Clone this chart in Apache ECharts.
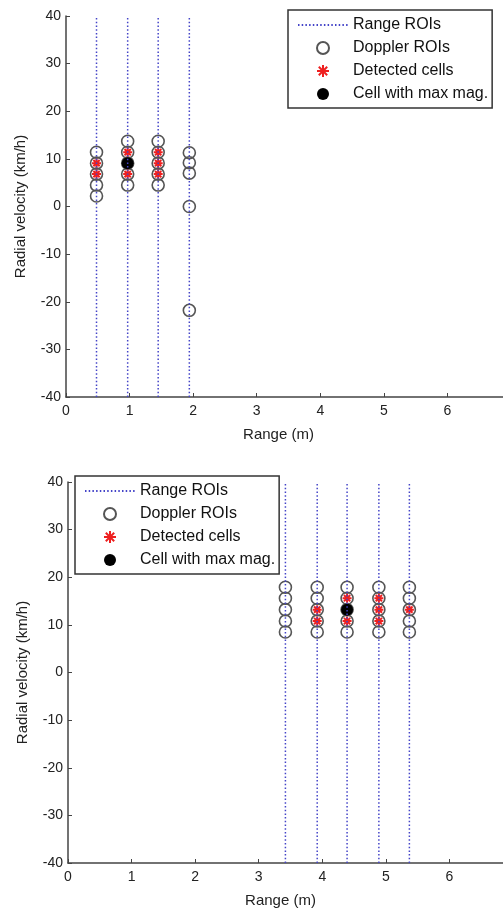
<!DOCTYPE html>
<html>
<head>
<meta charset="utf-8">
<script src="https://cdn.jsdelivr.net/npm/echarts@6.0.0/dist/echarts.min.js"></script>
<style>
  html, body { margin: 0; padding: 0; background: #fff; }
  #chart { width: 503px; height: 913px; }
</style>
</head>
<body>
<div id="chart"></div>
<script>
// range axis ticks and velocity ticks
const rangeTicks = [0, 1, 2, 3, 4, 5, 6, 7];
const velocityTicks = [-40, -30, -20, -10, 0, 10, 20, 30, 40];

// top panel: range ROIs (m) and, per ROI, the Doppler ROIs (km/h)
const topRange = [0.48, 0.97, 1.45, 1.94];
const topDoppler = [
    [2.2, 4.5, 6.8, 9.1, 11.4],
    [4.5, 6.8, 9.1, 11.4, 13.7],
    [4.5, 6.8, 9.1, 11.4, 13.7],
    [-21.8, 0, 7.0, 9.2, 11.3]
];
const topDetected = [
    [6.8, 9.1],
    [6.8, 11.4],
    [6.8, 9.1, 11.4],
    []
];
const topMax = [0.97, 9.1];

// bottom panel
const botRange = [3.42, 3.92, 4.39, 4.89, 5.37];
const botDoppler = [
    [8.5, 10.8, 13.2, 15.6, 17.9],
    [8.5, 10.8, 13.2, 15.6, 17.9],
    [8.5, 10.8, 13.2, 15.6, 17.9],
    [8.5, 10.8, 13.2, 15.6, 17.9],
    [8.5, 10.8, 13.2, 15.6, 17.9]
];
const botDetected = [
    [],
    [10.8, 13.2],
    [10.8, 15.6],
    [10.8, 13.2, 15.6],
    [13.2]
];
const botMax = [4.39, 13.2];

const names = ['Range ROIs', 'Doppler ROIs', 'Detected cells', 'Cell with max mag.'];
const font = 'Liberation Sans, Arial, sans-serif';
const asterisk = 'path://M5,0L5,10M0,5L10,5M1.5,1.5L8.5,8.5M8.5,1.5L1.5,8.5';

function toPoints(xs, cols) {
    const pts = [];
    xs.forEach((x, i) => cols[i].forEach(v => pts.push([x, v])));
    return pts;
}

function panelSeries(idx, xs, doppler, detected, maxPt) {
    const list = [];
    xs.forEach(x => {
        list.push({
            name: names[0],
            type: 'line',
            xAxisIndex: idx, yAxisIndex: idx,
            symbol: 'none',
            silent: true,
            lineStyle: { color: '#4444c8', width: 1.5, type: [1.5, 2.2] },
            data: [[x, velocityTicks[0]], [x, velocityTicks[velocityTicks.length - 1]]]
        });
    });
    list.push({
        name: names[1],
        type: 'scatter',
        xAxisIndex: idx, yAxisIndex: idx,
        symbol: 'circle',
        symbolSize: 12,
        itemStyle: { color: 'rgba(255,255,255,0)', borderColor: '#555', borderWidth: 1.6, opacity: 1 },
        data: toPoints(xs, doppler)
    });
    list.push({
        name: names[2],
        type: 'scatter',
        xAxisIndex: idx, yAxisIndex: idx,
        symbol: asterisk,
        symbolSize: 9,
        itemStyle: { color: 'rgba(255,255,255,0)', borderColor: '#ee2020', borderWidth: 2, opacity: 1 },
        data: toPoints(xs, detected)
    });
    list.push({
        name: names[3],
        type: 'scatter',
        xAxisIndex: idx, yAxisIndex: idx,
        symbol: 'circle',
        symbolSize: 12,
        itemStyle: { color: '#000', opacity: 1 },
        data: [maxPt]
    });
    return list;
}

function xAxis(idx) {
    return {
        type: 'value', gridIndex: idx,
        min: rangeTicks[0], max: rangeTicks[rangeTicks.length - 1], interval: 1,
        name: 'Range (m)', nameLocation: 'middle', nameGap: 30,
        nameTextStyle: { fontFamily: font, fontSize: 15, color: '#222', padding: [0, 20, 0, 0] },
        axisLine: { onZero: false, lineStyle: { color: '#444', width: 1.5 } },
        axisTick: { inside: true, length: 4, lineStyle: { color: '#444' } },
        axisLabel: {
            fontFamily: font, fontSize: 14, color: '#222', margin: 7,
            formatter: v => (v < 7 ? String(v) : '')
        },
        splitLine: { show: false }
    };
}

function yAxis(idx) {
    return {
        type: 'value', gridIndex: idx,
        min: velocityTicks[0], max: velocityTicks[velocityTicks.length - 1], interval: 10,
        name: 'Radial velocity (km/h)', nameLocation: 'middle', nameGap: 38,
        nameTextStyle: { fontFamily: font, fontSize: 15, color: '#222' },
        axisLine: { show: true, onZero: false, lineStyle: { color: '#444', width: 1.5 } },
        axisTick: { show: true, inside: true, length: 4, lineStyle: { color: '#444' } },
        axisLabel: { fontFamily: font, fontSize: 14, color: '#222', margin: 5 },
        splitLine: { show: false }
    };
}

function legend(left, top) {
    return {
        left: left, top: top,
        orient: 'vertical',
        data: [
            { name: names[0], itemStyle: { color: 'rgba(0,0,0,0)', borderWidth: 0, opacity: 0 } },
            names[1], names[2], names[3]
        ],
        itemWidth: 50, itemHeight: 12, itemGap: 7,
        padding: [7, 4, 6, 9],
        borderColor: '#333', borderWidth: 1.5,
        backgroundColor: '#fff',
        selectedMode: false,
        textStyle: { fontFamily: font, fontSize: 16, color: '#111' }
    };
}

const chart = echarts.init(document.getElementById('chart'));
chart.setOption({
    animation: false,
    backgroundColor: '#fff',
    grid: [
        { left: 66, top: 16, width: 445, height: 381, outerBoundsMode: 'none', containLabel: false },
        { left: 68, top: 482, width: 445, height: 381, outerBoundsMode: 'none', containLabel: false }
    ],
    legend: [legend(288, 10), legend(75, 476)],
    xAxis: [xAxis(0), xAxis(1)],
    yAxis: [yAxis(0), yAxis(1)],
    series: panelSeries(0, topRange, topDoppler, topDetected, topMax)
        .concat(panelSeries(1, botRange, botDoppler, botDetected, botMax))
});
</script>
</body>
</html>
